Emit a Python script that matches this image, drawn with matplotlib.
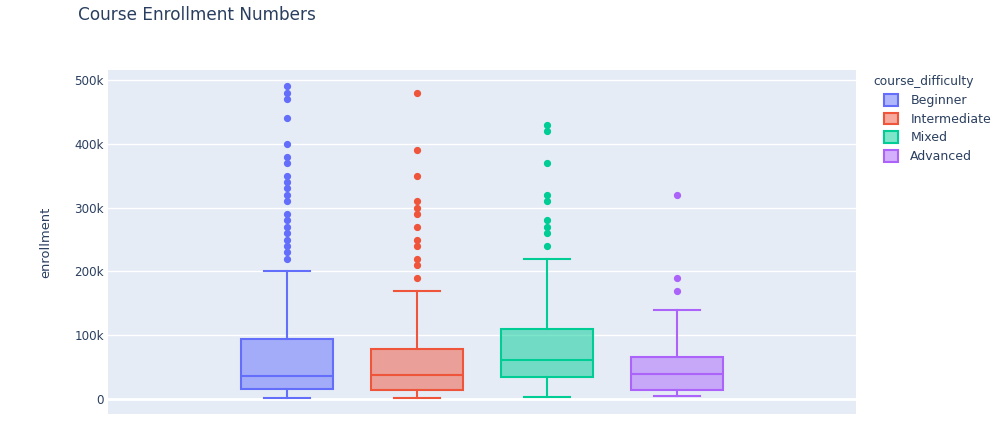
import matplotlib
matplotlib.use("Agg")
import matplotlib.pyplot as plt
from matplotlib.patches import Patch
from matplotlib.ticker import FuncFormatter

# values
categories = ["Beginner", "Intermediate", "Mixed", "Advanced"]
colors = ["#636EFA", "#EF553B", "#00CC96", "#AB63FA"]
q1 = [15700, 14100, 35000, 14000]
median = [36500, 37600, 60600, 39700]
q3 = [93600, 78800, 110000, 66000]
whisker_lo = [2000, 2000, 3000, 4000]
whisker_hi = [200000, 170000, 220000, 140000]
outliers_beginner = [490000, 480000, 470000, 440000, 400000, 380000, 370000,
                     350000, 340000, 330000, 320000, 310000, 290000, 280000,
                     270000, 260000, 250000, 240000, 230000, 220000]
outliers_intermediate = [480000, 390000, 350000, 310000, 300000, 290000,
                         270000, 250000, 240000, 220000, 210000, 190000]
outliers_mixed = [430000, 420000, 370000, 320000, 310000, 280000, 270000,
                  260000, 240000]
outliers_advanced = [320000, 190000, 170000]
outliers = [outliers_beginner, outliers_intermediate, outliers_mixed,
            outliers_advanced]

text_color = "#2a3f5f"
bg_color = "#E5ECF6"

plt.rcParams["font.family"] = ["DejaVu Sans"]

fig = plt.figure(figsize=(9.99, 4.34), dpi=100)
ax = fig.add_axes([108 / 999, 1 - 414 / 434, 748 / 999, 344 / 434])
ax.set_facecolor(bg_color)

box_w = 0.708
for i, cat in enumerate(categories):
    stats = [{
        "label": cat,
        "q1": q1[i], "med": median[i], "q3": q3[i],
        "whislo": whisker_lo[i], "whishi": whisker_hi[i],
        "fliers": outliers[i],
    }]
    c = colors[i]
    ax.bxp(stats, positions=[i], widths=box_w, capwidths=box_w / 2,
           patch_artist=True,
           boxprops=dict(facecolor=matplotlib.colors.to_rgba(c, 0.5),
                         edgecolor=c, linewidth=1.5),
           medianprops=dict(color=c, linewidth=1.5),
           whiskerprops=dict(color=c, linewidth=1.5),
           capprops=dict(color=c, linewidth=1.5),
           flierprops=dict(marker="o", markerfacecolor=c, markeredgecolor=c,
                           markersize=4.2, linestyle="none"),
           zorder=3)

ax.set_xlim(-1.377, 4.377)
ax.set_ylim(-23500, 515700)
ax.set_xticks([])
ax.set_yticks([0, 100000, 200000, 300000, 400000, 500000])
ax.yaxis.set_major_formatter(
    FuncFormatter(lambda v, p: "0" if v == 0 else f"{int(v / 1000)}k"))
ax.tick_params(axis="y", length=0, pad=3, labelsize=8.6, labelcolor=text_color)
ax.grid(axis="y", color="white", linewidth=1, zorder=0)
ax.axhline(0, color="white", linewidth=2, zorder=1)
ax.set_axisbelow(True)
for s in ax.spines.values():
    s.set_visible(False)

ax.set_ylabel("enrollment", fontsize=9.4, color=text_color, labelpad=16)

fig.text(78 / 999, 1 - 15 / 434, "Course Enrollment Numbers",
         fontsize=12.2, color=text_color, va="center", ha="left")

# legend title sits left of the legend entries, as in plotly
fig.text(873 / 999, 1 - 81 / 434, "course_difficulty", fontsize=8.8,
         color=text_color, va="center", ha="left")
handles = [Patch(facecolor=matplotlib.colors.to_rgba(c, 0.5), edgecolor=c,
                 linewidth=1.5) for c in colors]
leg = fig.legend(handles, categories,
                 loc="upper left", bbox_to_anchor=(884 / 999, 1 - 94 / 434),
                 frameon=False, fontsize=9.0, borderpad=0,
                 handlelength=1.15, handleheight=1.05, handletextpad=0.95,
                 labelspacing=0.45, borderaxespad=0)
for t in leg.get_texts():
    t.set_color(text_color)

fig.savefig("out.png", dpi=100, facecolor="white")
